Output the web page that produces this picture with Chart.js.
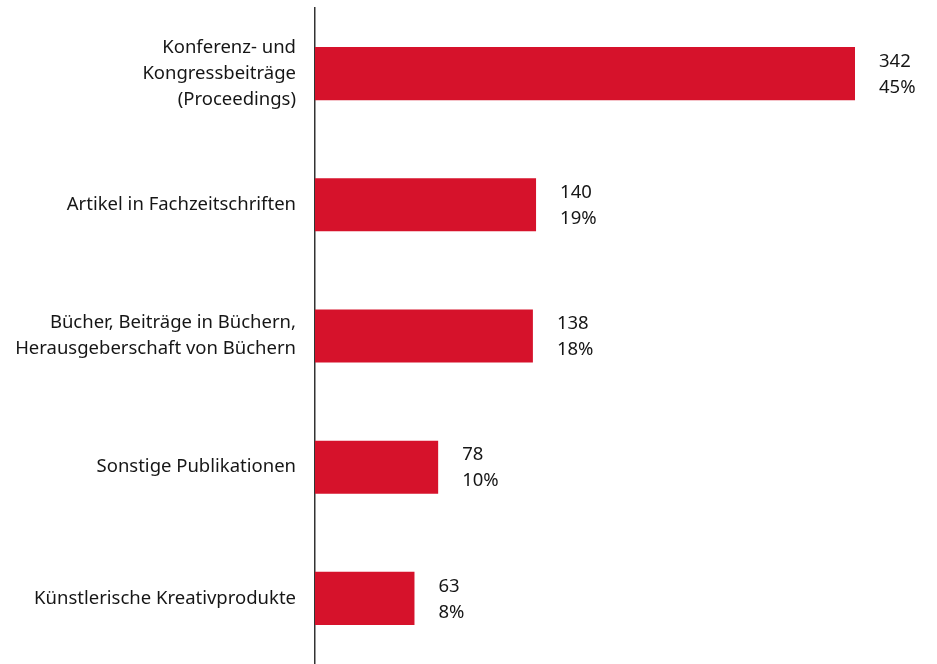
<!DOCTYPE html>
<html>
<head>
<meta charset="utf-8">
<script src="https://cdn.jsdelivr.net/npm/chart.js@4/dist/chart.umd.min.js"></script>
<style>
html,body{margin:0;padding:0;background:#fff;overflow:hidden;}
canvas{display:block;}
</style>
</head>
<body>
<canvas id="c" width="937" height="664"></canvas>
<script>
const categories = [
  ["Konferenz- und", "Kongressbeiträge", "(Proceedings)"],
  ["Artikel in Fachzeitschriften"],
  ["Bücher, Beiträge in Büchern,", "Herausgeberschaft von Büchern"],
  ["Sonstige Publikationen"],
  ["Künstlerische Kreativprodukte"]
];
const counts = [342, 140, 138, 78, 63];
const percents = ["45%", "19%", "18%", "10%", "8%"];

const FONT = "'Noto Sans', sans-serif";

const valueLabels = {
  id: 'valueLabels',
  afterDatasetsDraw(chart) {
    const ctx = chart.ctx;
    const meta = chart.getDatasetMeta(0);
    ctx.save();
    ctx.font = "18.5px " + FONT;
    ctx.fillStyle = "#161616";
    ctx.textAlign = "left";
    ctx.textBaseline = "middle";
    meta.data.forEach((bar, i) => {
      const x = bar.x + 24;
      ctx.fillText(String(counts[i]), x, bar.y - 12);
      ctx.fillText(percents[i], x, bar.y + 14);
    });
    ctx.restore();
  }
};

new Chart(document.getElementById('c'), {
  type: 'bar',
  data: {
    labels: categories,
    datasets: [{
      data: counts,
      backgroundColor: '#D6122B',
      borderWidth: 0,
      barPercentage: 0.81,
      categoryPercentage: 0.5
    }]
  },
  options: {
    indexAxis: 'y',
    responsive: false,
    maintainAspectRatio: false,
    animation: false,
    layout: { padding: { top: 8, bottom: 0, right: 22, left: 0 } },
    plugins: { legend: { display: false }, tooltip: { enabled: false } },
    scales: {
      x: { display: false, min: 0, max: 380 },
      y: {
        afterFit(scale) { scale.width = 315; scale.paddingTop = 0; scale.paddingBottom = 0; },
        grid: { display: false, drawTicks: false },
        border: { display: true, color: '#333', width: 1.5 },
        ticks: {
          color: '#161616',
          padding: 19,
          font: { family: FONT, size: 18.5, lineHeight: 1.4 }
        }
      }
    }
  },
  plugins: [valueLabels]
});
</script>
</body>
</html>
